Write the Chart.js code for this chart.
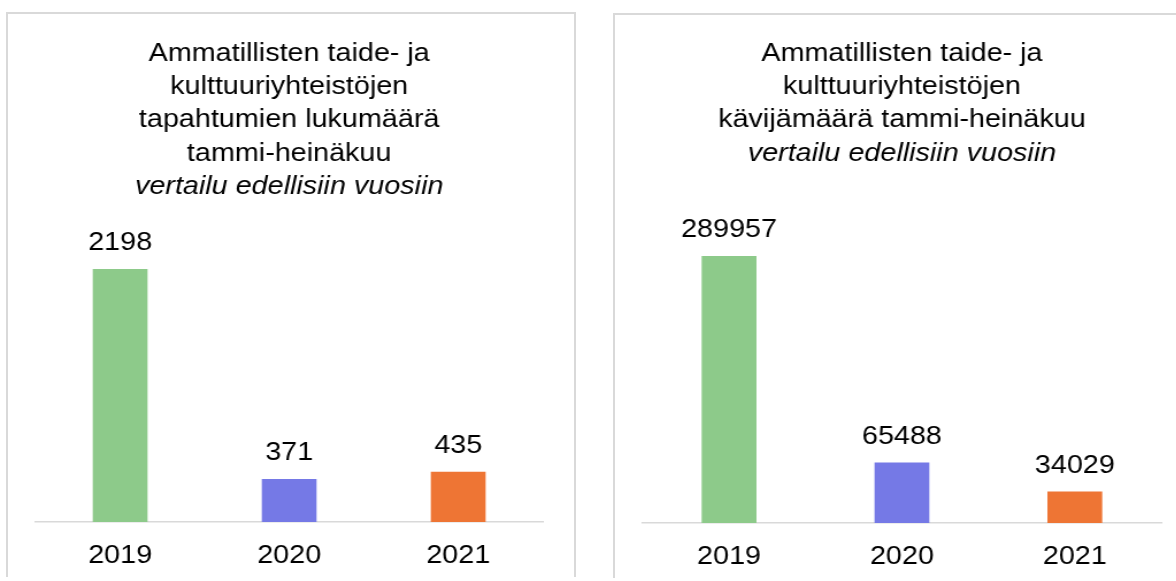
<!DOCTYPE html>
<html lang="fi">
<head>
<meta charset="utf-8">
<title>Tapahtumat ja kävijät</title>
<script src="https://cdn.jsdelivr.net/npm/chart.js@4/dist/chart.umd.min.js"></script>
<style>
    html, body {
        margin: 0;
        padding: 0;
        background: #ffffff;
        width: 1176px;
        height: 581px;
        overflow: hidden;
    }

    .panel {
        position: absolute;
        width: 566px;
        height: 563px;
        border: 2px solid #d9d9d9;
        border-bottom: 0;
        background: #ffffff;
    }

    /* the source picture is stretched sideways, so the chart is too */
    .stretch {
        position: absolute;
        left: 0;
        top: 0;
        width: 492px;
        height: 583px;
        transform: scaleX(1.15);
        transform-origin: 0 0;
    }
</style>
</head>
<body>
<div class="panel" style="left: 6px; top: 12px;">
    <div class="stretch"><canvas id="events"></canvas></div>
</div>
<div class="panel" style="left: 613px; top: 13px;">
    <div class="stretch"><canvas id="visitors"></canvas></div>
</div>

<script>
const years = ['2019', '2020', '2021'];
const eventCounts = [2198, 371, 435];
const visitorCounts = [289957, 65488, 34029];

const eventsTitle = [
    'Ammatillisten taide- ja',
    'kulttuuriyhteistöjen',
    'tapahtumien lukumäärä',
    'tammi-heinäkuu',
];
const visitorsTitle = [
    'Ammatillisten taide- ja',
    'kulttuuriyhteistöjen',
    'kävijämäärä tammi-heinäkuu',
];
const subtitleText = 'vertailu edellisiin vuosiin';

const barColors = ['#8dca8a', '#7579e6', '#ee7534'];
const fontFamily = '"Liberation Sans", Arial, Helvetica, sans-serif';

// value above every bar
const valueLabels = {
    id: 'valueLabels',
    afterDatasetsDraw(chart) {
        const ctx = chart.ctx;
        const meta = chart.getDatasetMeta(0);
        const values = chart.data.datasets[0].data;

        ctx.save();
        ctx.font = `25px ${fontFamily}`;
        ctx.fillStyle = '#000000';
        ctx.textAlign = 'center';
        ctx.textBaseline = 'alphabetic';
        meta.data.forEach((bar, index) => {
            ctx.fillText(String(values[index]), bar.x, bar.y - 19);
        });
        ctx.restore();
    },
};

function createYearChart(canvas, values, titleLines, yMax, opts) {
    return new Chart(canvas.getContext('2d'), {
        type: 'bar',
        data: {
            labels: years,
            datasets: [{
                data: values,
                backgroundColor: barColors,
                barThickness: 47,
                borderWidth: 0,
            }],
        },
        options: {
            responsive: true,
            maintainAspectRatio: false,
            animation: false,
            layout: {
                padding: {
                    left: 24,
                    right: opts.right,
                    top: 0,
                    bottom: 7,
                },
            },
            plugins: {
                legend: {
                    display: false,
                },
                tooltip: {
                    enabled: false,
                },
                title: {
                    display: true,
                    text: titleLines,
                    color: '#000000',
                    font: {
                        family: fontFamily,
                        size: 25,
                        weight: 'normal',
                        lineHeight: 1.336,
                    },
                    padding: {
                        top: opts.titleTop,
                        bottom: 0,
                    },
                },
                subtitle: {
                    display: true,
                    text: subtitleText,
                    color: '#000000',
                    font: {
                        family: fontFamily,
                        size: 25,
                        style: 'italic',
                        weight: 'normal',
                        lineHeight: 1.336,
                    },
                    padding: {
                        top: 0,
                        bottom: opts.subtitleBottom,
                    },
                },
            },
            scales: {
                x: {
                    grid: {
                        display: false,
                        drawTicks: false,
                    },
                    border: {
                        display: true,
                        color: '#d9d9d9',
                        width: 1.5,
                    },
                    ticks: {
                        color: '#000000',
                        padding: 19,
                        font: {
                            family: fontFamily,
                            size: 25,
                        },
                    },
                },
                y: {
                    display: false,
                    beginAtZero: true,
                    min: 0,
                    max: yMax,
                },
            },
        },
        plugins: [valueLabels],
    });
}

document.addEventListener('DOMContentLoaded', () => {
    createYearChart(document.getElementById('events'), eventCounts, eventsTitle, 2600, {
        right: 27,
        titleTop: 23,
        subtitleBottom: 19,
    });

    createYearChart(document.getElementById('visitors'), visitorCounts, visitorsTitle, 380000, {
        right: 17,
        titleTop: 22,
        subtitleBottom: 3,
    });
});
</script>
</body>
</html>
